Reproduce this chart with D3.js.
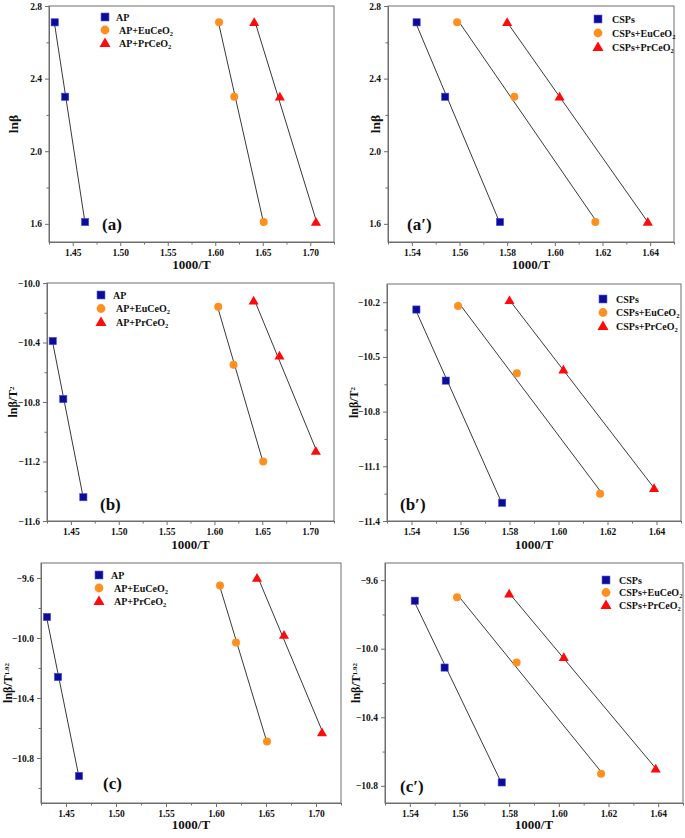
<!DOCTYPE html>
<html>
<head>
<meta charset="utf-8">
<script src="https://cdn.jsdelivr.net/npm/d3@7"></script>
<style>
  html, body { margin: 0; padding: 0; background: #fff; }
  svg text { font-family: "Liberation Serif", "Times New Roman", serif; font-weight: bold; }
</style>
</head>
<body>
<svg id="chart" width="685" height="838"></svg>
<script>
// ---------------- data ----------------
const heatingLn = [2.71, 2.30, 1.61];           // ln(beta) for beta = 15, 10, 5

const xAP      = [1.431, 1.442, 1.463];
const xAPEu    = [1.604, 1.620, 1.651];
const xAPPr    = [1.641, 1.668, 1.706];
const xCSP     = [1.542, 1.554, 1.577];
const xCSPEu   = [1.559, 1.583, 1.617];
const xCSPPr   = [1.580, 1.602, 1.639];

const kasAP    = [-10.39, -10.78, -11.44];
const kasAPEu  = [-10.16, -10.55, -11.20];
const kasAPPr  = [-10.12, -10.49, -11.13];
const kasCSP   = [-10.24, -10.63, -11.30];
const kasCSPEu = [-10.22, -10.59, -11.25];
const kasCSPPr = [-10.19, -10.57, -11.22];

const stAP     = [-9.86, -10.26, -10.92];
const stAPEu   = [-9.65, -10.03, -10.69];
const stAPPr   = [-9.60, -9.98, -10.63];
const stCSP    = [-9.72, -10.11, -10.78];
const stCSPEu  = [-9.70, -10.08, -10.73];
const stCSPPr  = [-9.68, -10.05, -10.70];

const namesAP  = ["AP", "AP+EuCeO", "AP+PrCeO"];
const namesCSP = ["CSPs", "CSPs+EuCeO", "CSPs+PrCeO"];

const xTicksAP  = [1.45, 1.50, 1.55, 1.60, 1.65, 1.70];
const xMinorAP  = [1.425, 1.475, 1.525, 1.575, 1.625, 1.675, 1.725];
const xTicksCSP = [1.54, 1.56, 1.58, 1.60, 1.62, 1.64];
const xMinorCSP = [1.53, 1.55, 1.57, 1.59, 1.61, 1.63, 1.65];

const yTicksA  = [1.6, 2.0, 2.4, 2.8];
const yMinorA  = [1.8, 2.2, 2.6];
const yTicksB  = [-11.6, -11.2, -10.8, -10.4, -10.0];
const yMinorB  = [-11.4, -11.0, -10.6, -10.2];
const yTicksB2 = [-11.4, -11.1, -10.8, -10.5, -10.2];
const yMinorB2 = [-11.25, -10.95, -10.65, -10.35];
const yTicksC  = [-10.8, -10.4, -10.0, -9.6];
const yMinorC  = [-11.0, -10.6, -10.2, -9.8];
const yTicksC2 = [-10.8, -10.4, -10.0, -9.6];
const yMinorC2 = [-10.6, -10.2, -9.8];

const colors = ["#0b0b9c", "#ff9020", "#ff0a0a"];
const shapes = ["square", "circle", "triangle"];

// ---------------- panels ----------------
const panels = [
  { tag: "(a)", box: [49, 334, 6, 242], xd: [1.425, 1.725], yd: [1.5, 2.8],
    xs: [xAP, xAPEu, xAPPr], ys: [heatingLn, heatingLn, heatingLn], names: namesAP,
    xt: xTicksAP, xm: xMinorAP, xf: ".2f", yt: yTicksA, ym: yMinorA, ylab: ["lnβ", null], ylx: 18,
    tagPos: [102, 230], leg: [105, 17, 13, 11], xlabY: 269 },
  { tag: "(a′)", box: [388, 674, 6, 242], xd: [1.53, 1.65], yd: [1.5, 2.8],
    xs: [xCSP, xCSPEu, xCSPPr], ys: [heatingLn, heatingLn, heatingLn], names: namesCSP,
    xt: xTicksCSP, xm: xMinorCSP, xf: ".2f", yt: yTicksA, ym: yMinorA, ylab: ["lnβ", null], ylx: 380,
    tagPos: [407, 230], leg: [598, 19, 14, 14], xlabY: 269 },
  { tag: "(b)", box: [47, 334, 283, 521], xd: [1.425, 1.725], yd: [-11.6, -10.0],
    xs: [xAP, xAPEu, xAPPr], ys: [kasAP, kasAPEu, kasAPPr], names: namesAP,
    xt: xTicksAP, xm: xMinorAP, xf: ".2f", yt: yTicksB, ym: yMinorB, ylab: ["lnβ/T", "2"], ylx: 17,
    tagPos: [100, 510], leg: [101, 295, 13.5, 12], xlabY: 549 },
  { tag: "(b′)", box: [387, 681, 284, 521], xd: [1.53, 1.65], yd: [-11.4, -10.1],
    xs: [xCSP, xCSPEu, xCSPPr], ys: [kasCSP, kasCSPEu, kasCSPPr], names: namesCSP,
    xt: xTicksCSP, xm: xMinorCSP, xf: ".2f", yt: yTicksB2, ym: yMinorB2, ylab: ["lnβ/T", "2"], ylx: 358,
    tagPos: [400, 510], leg: [603, 299, 13.5, 13], xlabY: 549 },
  { tag: "(c)", box: [41, 341, 563, 803], xd: [1.425, 1.725], yd: [-11.1, -9.5],
    xs: [xAP, xAPEu, xAPPr], ys: [stAP, stAPEu, stAPPr], names: namesAP,
    xt: xTicksAP, xm: xMinorAP, xf: ".2f", yt: yTicksC, ym: yMinorC, ylab: ["lnβ/T", "1.92"], ylx: 12,
    tagPos: [103, 789], leg: [99, 575, 13, 12], xlabY: 829 },
  { tag: "(c′)", box: [385, 683, 563, 803], xd: [1.53, 1.65], yd: [-10.9, -9.5],
    xs: [xCSP, xCSPEu, xCSPPr], ys: [stCSP, stCSPEu, stCSPPr], names: namesCSP,
    xt: xTicksCSP, xm: xMinorCSP, xf: ".2f", yt: yTicksC2, ym: yMinorC2, ylab: ["lnβ/T", "1.92"], ylx: 360,
    tagPos: [400, 792], leg: [606, 580, 12.5, 13], xlabY: 829 }
];

const svg = d3.select("#chart");
const axisColor = "#6e6e6e";

function marker(g, shape, cx, cy, color, scale) {
  scale = scale || 1;
  if (shape === "square") {
    const s = 7.2 * scale;
    g.append("rect").attr("x", cx - s / 2).attr("y", cy - s / 2).attr("width", s).attr("height", s)
      .attr("fill", color).attr("stroke", "#4a4ad0").attr("stroke-width", 0.6);
  } else if (shape === "circle") {
    g.append("circle").attr("cx", cx).attr("cy", cy).attr("r", 4 * scale).attr("fill", color);
  } else {
    g.append("path").attr("d", d3.symbol(d3.symbolTriangle, 44 * scale * scale)())
      .attr("transform", `translate(${cx},${cy + 0.8})`).attr("fill", color);
  }
}

function fit(xs, ys) {
  const mx = d3.mean(xs), my = d3.mean(ys);
  let num = 0, den = 0;
  xs.forEach((x, i) => { num += (x - mx) * (ys[i] - my); den += (x - mx) * (x - mx); });
  const b = num / den;
  return { b, a: my - b * mx };
}

panels.forEach(p => {
  const [x0, x1, y0, y1] = p.box;
  const x = d3.scaleLinear().domain(p.xd).range([x0, x1]);
  const y = d3.scaleLinear().domain(p.yd).range([y1, y0]);
  const g = svg.append("g");

  // frame
  g.append("rect").attr("x", x0).attr("y", y0).attr("width", x1 - x0).attr("height", y1 - y0)
    .attr("fill", "none").attr("stroke", axisColor).attr("stroke-width", 1);

  // axes
  const xa = g.append("g").attr("transform", `translate(0,${y1})`)
    .call(d3.axisBottom(x).tickValues(p.xt).tickFormat(d3.format(p.xf)).tickSize(4).tickPadding(3).tickSizeOuter(0));
  const xm = g.append("g").attr("transform", `translate(0,${y1})`)
    .call(d3.axisBottom(x).tickValues(p.xm).tickFormat("").tickSize(2.5).tickSizeOuter(0));
  const ya = g.append("g").attr("transform", `translate(${x0},0)`)
    .call(d3.axisLeft(y).tickValues(p.yt).tickFormat(d3.format(".1f")).tickSize(4).tickPadding(3).tickSizeOuter(0));
  const ym = g.append("g").attr("transform", `translate(${x0},0)`)
    .call(d3.axisLeft(y).tickValues(p.ym).tickFormat("").tickSize(2.5).tickSizeOuter(0));
  [xa, xm, ya, ym].forEach(a => {
    a.select(".domain").attr("stroke", axisColor);
    a.selectAll(".tick line").attr("stroke", axisColor);
    a.selectAll("text").attr("fill", "#111").style("font-size", "9.5px")
      .style("font-family", "'Liberation Serif', serif").style("font-weight", "bold");
  });

  // axis titles
  g.append("text").attr("x", (x0 + x1) / 2).attr("y", p.xlabY).attr("text-anchor", "middle")
    .style("font-size", "13px").attr("fill", "#111").text("1000/T");
  const yl = g.append("text").attr("transform", `translate(${p.ylx},${(y0 + y1) / 2}) rotate(-90)`)
    .attr("text-anchor", "middle").style("font-size", p.ylab[1] ? "12px" : "13.5px").attr("fill", "#111");
  yl.append("tspan").text(p.ylab[0]);
  if (p.ylab[1]) yl.append("tspan").attr("dy", "-0.45em").style("font-size", "7px").text(p.ylab[1]);

  // fit lines
  p.xs.forEach((xs, i) => {
    const f = fit(xs, p.ys[i]);
    const xa0 = d3.min(xs), xa1 = d3.max(xs);
    g.append("line").attr("x1", x(xa0)).attr("y1", y(f.a + f.b * xa0))
      .attr("x2", x(xa1)).attr("y2", y(f.a + f.b * xa1))
      .attr("stroke", "#222").attr("stroke-width", 0.9);
  });

  // points
  p.xs.forEach((xs, i) => {
    xs.forEach((xv, j) => marker(g, shapes[i], x(xv), y(p.ys[i][j]), colors[i]));
  });

  // legend
  const [lx, ly, dyRow, textOff] = p.leg;
  p.names.forEach((n, i) => {
    const cy = ly + i * dyRow;
    marker(g, shapes[i], lx, cy, colors[i], 1.1);
    const t = g.append("text").attr("x", lx + textOff + (i > 0 && p.names === namesAP ? 3 : 0))
      .attr("y", cy + 3.5).style("font-size", "10px").attr("fill", "#111");
    t.append("tspan").text(n);
    if (i > 0) t.append("tspan").attr("dy", "0.35em").style("font-size", "6.5px").text("2");
  });

  // panel tag
  g.append("text").attr("x", p.tagPos[0]).attr("y", p.tagPos[1]).style("font-size", "17px")
    .attr("fill", "#111").text(p.tag);
});
</script>
</body>
</html>
